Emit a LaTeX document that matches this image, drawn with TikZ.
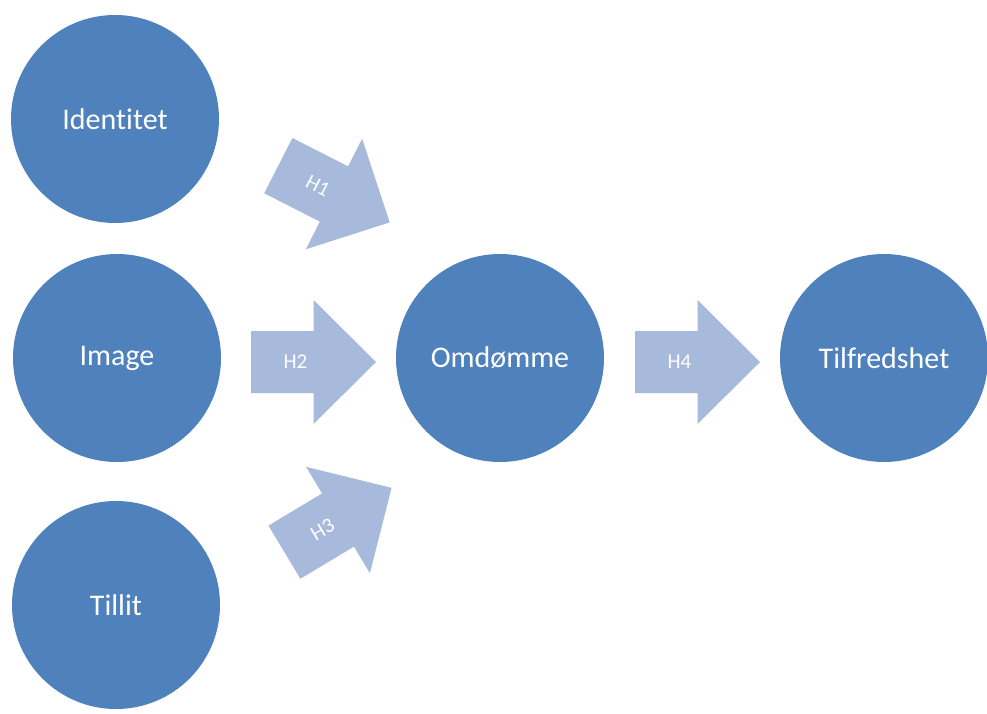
\documentclass[tikz,border=0pt]{standalone}
\usepackage{fontspec}
\setmainfont{Carlito}[Ligatures=NoCommon]
\definecolor{circblue}{RGB}{79,129,189}
\definecolor{arrblue}{RGB}{167,186,220}
\tikzset{
  bubble/.style={circle, fill=circblue, minimum size=208pt, inner sep=0pt,
    text=white, font=\fontsize{30}{36}\selectfont},
  hlabel/.style={text=white, font=\fontsize{21}{25}\selectfont, transform shape, inner sep=0pt},
  pics/blockarrow/.style={code={
    \fill[arrblue] (-62.5,-31) -- (0,-31) -- (0,-62) -- (62.5,0) -- (0,62) -- (0,31) -- (-62.5,31) -- cycle;
    \node[hlabel] (-lbl) at (-18,0) {#1};
  }}
}
\begin{document}
\begin{tikzpicture}[x=1pt,y=-1pt]
\useasboundingbox (0,0) rectangle (987,713);
\fill[white] (0,0) rectangle (987,713);

\node[bubble] (identitet) at (115,119) {Identitet};
\node[bubble] (image) at (117,358) {Image};
\node[bubble] (tillit) at (116,605) {Tillit};
\node[bubble] (omdomme) at (500,358) {Omdømme};
\node[bubble] (tilfredshet) at (884,358) {Tilfredshet};

\pic[rotate=-27] (h1) at (334,194) {blockarrow=H1};
\pic (h2) at (313.5,362) {blockarrow=H2};
\pic[rotate=31] (h3) at (338,520) {blockarrow=H3};
\pic (h4) at (697.5,362) {blockarrow=H4};
\end{tikzpicture}
\end{document}
